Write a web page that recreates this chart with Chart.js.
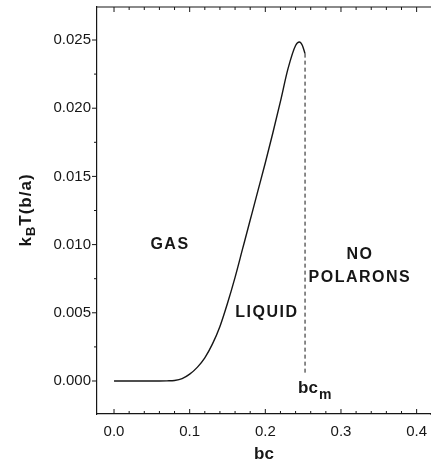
<!DOCTYPE html>
<html lang="en">
<head>
    <meta charset="UTF-8">
    <title>Polaron phase diagram</title>
    <script src="https://cdn.jsdelivr.net/npm/chart.js"></script>
    <style>
        body {
            margin: 0;
            background: white;
            overflow: hidden;
        }
        canvas {
            display: block;
        }
    </style>
</head>
<body>
    <canvas id="phaseChart" width="431" height="462"></canvas>

    <script>
        // transition curve
        const bcValues = [0, 0.02, 0.04, 0.06, 0.07, 0.08, 0.09, 0.10, 0.11, 0.12, 0.13, 0.14, 0.15, 0.16, 0.17, 0.18, 0.19, 0.20, 0.21, 0.22, 0.23, 0.24, 0.245, 0.249, 0.2525];
        const tempValues = [0, 0, 0, 0, 0.00001, 0.00004, 0.00017, 0.0005, 0.0010, 0.0017, 0.0027, 0.0040, 0.0057, 0.0076, 0.0097, 0.0118, 0.0139, 0.0160, 0.0182, 0.0205, 0.0229, 0.0246, 0.02485, 0.0246, 0.0240];

        // dashed line at bc_m
        const bcM = 0.2525;
        const dashedY = [0.0240, 0.0005];

        const xTicks = [0.0, 0.1, 0.2, 0.3, 0.4];
        const yTicks = [0.000, 0.005, 0.010, 0.015, 0.020, 0.025];

        // region labels (data coords)
        const regionText = ["GAS", "LIQUID", "NO", "POLARONS"];
        const regionX = [0.074, 0.202, 0.325, 0.325];
        const regionY = [0.0100, 0.0050, 0.00924, 0.00755];

        const INK = "#161616";
        const FONT = "'Liberation Sans', Arial, sans-serif";

        const framePlugin = {
            id: "frame",
            afterDraw(chart) {
                const ctx = chart.ctx;
                const area = chart.chartArea;
                const xs = chart.scales.x;
                const ys = chart.scales.y;
                ctx.save();
                ctx.strokeStyle = INK;
                ctx.lineWidth = 1.2;

                // top border, and bottom border run out to the edge
                ctx.beginPath();
                ctx.moveTo(area.left, area.top);
                ctx.lineTo(chart.width, area.top);
                ctx.moveTo(area.right - 1, area.bottom);
                ctx.lineTo(chart.width, area.bottom);
                ctx.stroke();

                // x ticks, every 0.02, on bottom and top
                ctx.lineWidth = 1;
                for (let i = 0; i <= 21; i++) {
                    const px = xs.getPixelForValue(i * 0.02);
                    const len = i % 5 === 0 ? 5 : 3;
                    ctx.beginPath();
                    ctx.moveTo(px, area.bottom);
                    ctx.lineTo(px, area.bottom - len);
                    ctx.moveTo(px, area.top);
                    ctx.lineTo(px, area.top + len);
                    ctx.stroke();
                }

                // y ticks, every 0.0025
                for (let i = 0; i <= 10; i++) {
                    const py = ys.getPixelForValue(i * 0.0025);
                    const len = i % 2 === 0 ? 5 : 3;
                    ctx.beginPath();
                    ctx.moveTo(area.left - len, py);
                    ctx.lineTo(area.left, py);
                    ctx.stroke();
                }

                // region labels
                ctx.fillStyle = INK;
                ctx.font = "bold 16px " + FONT;
                ctx.letterSpacing = "1.5px";
                ctx.textAlign = "center";
                ctx.textBaseline = "middle";
                regionText.forEach((t, i) => {
                    ctx.fillText(t, xs.getPixelForValue(regionX[i]), ys.getPixelForValue(regionY[i]));
                });

                // bc_m label
                ctx.letterSpacing = "0px";
                ctx.textAlign = "left";
                ctx.textBaseline = "alphabetic";
                const mx = xs.getPixelForValue(bcM) - 7;
                const my = ys.getPixelForValue(0) + 12;
                ctx.font = "bold 17px " + FONT;
                ctx.fillText("bc", mx, my);
                const w = ctx.measureText("bc").width;
                ctx.font = "bold 14px " + FONT;
                ctx.fillText("m", mx + w + 1, my + 6);

                // y axis title k_B T(b/a), rotated
                ctx.translate(25, 210);
                ctx.rotate(-Math.PI / 2);
                ctx.letterSpacing = "1px";
                ctx.font = "bold 17px " + FONT;
                const wk = ctx.measureText("k").width;
                ctx.font = "bold 13px " + FONT;
                const wb = ctx.measureText("B").width;
                ctx.font = "bold 17px " + FONT;
                const wt = ctx.measureText("T(b/a)").width;
                let sx = -(wk + wb + wt) / 2;
                ctx.fillText("k", sx, 6);
                sx += wk;
                ctx.font = "bold 13px " + FONT;
                ctx.fillText("B", sx, 10);
                sx += wb;
                ctx.font = "bold 17px " + FONT;
                ctx.fillText("T(b/a)", sx, 6);

                ctx.restore();
            }
        };

        const ctx = document.getElementById("phaseChart").getContext("2d");

        new Chart(ctx, {
            type: "scatter",
            data: {
                datasets: [
                    {
                        data: bcValues.map((b, i) => ({ x: b, y: tempValues[i] })),
                        showLine: true,
                        borderColor: INK,
                        borderWidth: 1.4,
                        pointRadius: 0,
                        cubicInterpolationMode: "monotone"
                    },
                    {
                        data: dashedY.map(v => ({ x: bcM, y: v })),
                        showLine: true,
                        borderColor: INK,
                        borderWidth: 1,
                        borderDash: [4, 3],
                        pointRadius: 0
                    }
                ]
            },
            options: {
                responsive: false,
                animation: false,
                layout: { padding: { top: 7, right: 0, left: 0, bottom: 0 } },
                plugins: {
                    legend: { display: false },
                    tooltip: { enabled: false }
                },
                scales: {
                    x: {
                        type: "linear",
                        min: -0.0225,
                        max: 0.419,
                        afterBuildTicks: s => { s.ticks = xTicks.map(v => ({ value: v })); },
                        afterFit: s => {
                            s.height = 48;
                            s.paddingLeft = 0;
                            s.paddingRight = 0;
                        },
                        grid: { drawOnChartArea: false, drawTicks: false },
                        border: { color: INK, width: 1.2 },
                        ticks: {
                            padding: 9,
                            color: INK,
                            font: { family: FONT, size: 15 },
                            callback: v => v.toFixed(1)
                        },
                        title: {
                            display: true,
                            text: "bc",
                            color: INK,
                            font: { family: FONT, size: 17, weight: "bold" },
                            padding: { top: 0, bottom: -3 }
                        }
                    },
                    y: {
                        type: "linear",
                        min: -0.00242,
                        max: 0.02742,
                        afterBuildTicks: s => { s.ticks = yTicks.map(v => ({ value: v })); },
                        afterFit: s => {
                            s.width = 97;
                            s.paddingTop = 0;
                            s.paddingBottom = 0;
                        },
                        grid: { drawOnChartArea: false, drawTicks: false },
                        border: { color: INK, width: 1.2 },
                        ticks: {
                            padding: 6,
                            color: INK,
                            font: { family: FONT, size: 15 },
                            callback: v => v.toFixed(3)
                        }
                    }
                }
            },
            plugins: [framePlugin]
        });
    </script>
</body>
</html>
